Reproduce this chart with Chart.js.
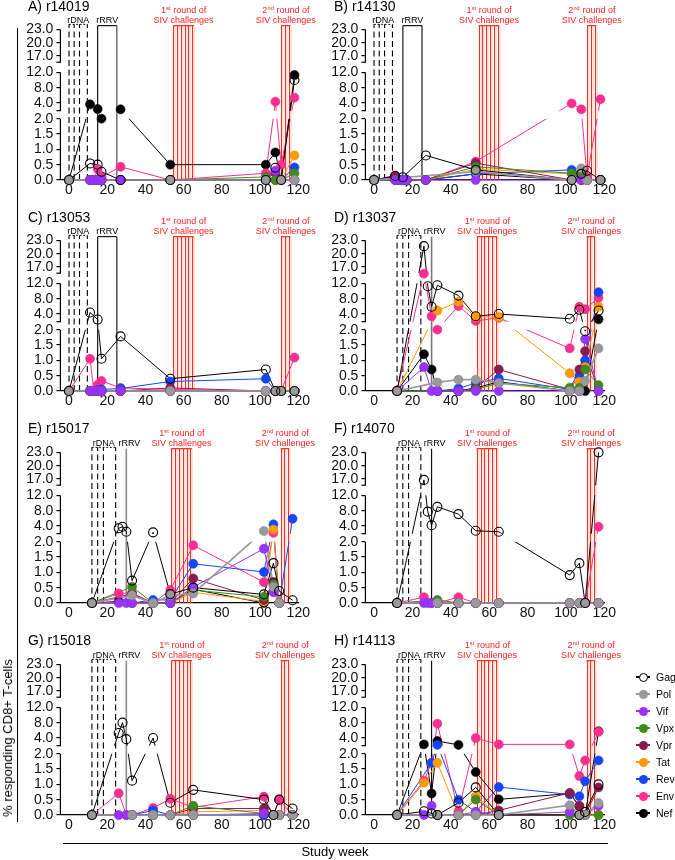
<!DOCTYPE html>
<html><head><meta charset="utf-8">
<script src="https://cdn.jsdelivr.net/npm/chart.js@4.4.1/dist/chart.umd.min.js"></script>
<style>
html,body{margin:0;padding:0;background:#fff;}
body{width:675px;height:860px;position:relative;overflow:hidden;font-family:"Liberation Sans",Arial,Helvetica,sans-serif;color:#000;}
canvas{position:absolute;}
.ptitle{position:absolute;font-size:14px;line-height:14px;white-space:nowrap;}
.leg{position:absolute;left:636px;height:14px;width:40px;}
.leg .ln{position:absolute;left:0;top:6.4px;width:14px;height:1.2px;}
.leg .dot{position:absolute;left:2.5px;top:2.5px;width:9px;height:9px;border-radius:50%;box-sizing:border-box;}
.leg .lt{position:absolute;left:20px;top:0;font-size:10.5px;line-height:14px;white-space:nowrap;}
</style></head><body>
<script>
// ---------------- DATA ----------------
const seriesNames = ['Gag','Pol','Vif','Vpx','Vpr','Tat','Rev','Env','Nef'];
const weeksAC = [0, 11, 13, 15, 17, 27, 53, 103, 108, 111, 118];
const weeksDH = [12, 26, 28, 30, 33, 44, 53, 65, 102, 107, 110, 117];
const yTickValues = [0, 0.5, 1, 1.5, 2, 4, 8, 12, 17, 20, 23];
const xTickValues = [0, 20, 40, 60, 80, 100, 120];

// immunization / challenge schedules (study weeks)
const rDNA_AC = [0, 2.7, 5.5, 9.6];
const rRRV_AC = [15, 25];
const siv1_AC = [54.5, 56.5, 58.5, 60.5, 62.5, 64.5];
const siv2_AC = [111, 113, 115];
const rDNA_DH = [12, 15, 18, 24.4];
const rRRV_DH = [30];
const siv1_DH = [53.5, 55.5, 57.5, 59.5, 61.5, 63.5];
const siv2_DH = [110.8, 112.6, 114.5];

// A) r14019
const A_Gag = [0, 0.54, null, 0.5, 0.27, 0, 0, 0, 0.4, 0, 10];
const A_Pol = [0, null, null, null, null, null, 0, 0, null, 0, 0];
const A_Vif = [0, 0, 0, 0, 0, 0, 0, 0, 0.3, 0, 0];
const A_Vpx = [0, 0, 0, 0, 0, 0, 0, 0.1, 0, 0, 0.22];
const A_Vpr = [0, 0, 0, 0, 0, 0, 0, 0, 0.25, 0, 0];
const A_Tat = [0, 0, 0, 0, 0, 0, 0, 0, 0, 0, 0.8];
const A_Rev = [0, 0, 0, 0, 0, 0, 0, 0, 0, 0, 0.41];
const A_Env = [0, 0, 0, 0.36, 0.1, 0.43, 0, 0.22, 4.35, 0.5, 5.4];
const A_Nef = [0, 3.65, null, 2.43, 2.0, 2.35, 0.5, 0.5, 0.9, 0, 11.3];
// B) r14130
const B_Gag = [0, 0.13, null, 0.09, null, 0.8, 0.33, 0, 0.2, 0.3, 0];
const B_Pol = [0, null, null, null, null, null, 0.27, 0, 0.38, 0, 0];
const B_Vif = [0, 0, 0, 0, 0, 0, 0, 0, 0, 0, 0];
const B_Vpx = [0, 0, 0, 0, 0, 0, 0.43, 0.22, 0.22, 0, 0];
const B_Vpr = [0, 0.12, 0, 0, 0, 0, 0.55, 0, 0, 0, 0];
const B_Tat = [0, 0.05, 0, 0, 0, 0, 0.35, 0.2, 0.15, 0, 0];
const B_Rev = [0, 0, 0, 0, 0, 0, 0.2, 0.33, 0, 0, 0];
const B_Env = [0, 0.15, 0, 0, 0, 0, 0.6, 3.9, 2.35, 0.1, 5.0];
const B_Nef = [0, 0, 0, 0, 0, 0, 0.2, 0, 0.25, 0, 0];
// C) r13053
const C_Gag = [0, 4.4, null, 2.55, 1.05, 1.78, 0.4, 0.7, 0, 0, 0];
const C_Pol = [0, null, null, null, null, null, 0, 0, 0, 0, 0];
const C_Vif = [0, 0, 0, 0, 0, 0, 0, 0, 0, 0, 0];
const C_Vpx = [0, 0, 0, 0, 0, 0, 0, 0, 0, 0, 0];
const C_Vpr = [0, 0, 0, 0, 0, 0, 0.1, 0, 0, 0, 0];
const C_Tat = [0, 0, 0, 0, 0, 0, 0, 0, 0, 0, 0];
const C_Rev = [0, 0, 0, 0.03, 0.05, 0.08, 0.31, 0.4, 0, 0, 0];
const C_Env = [0, 1.05, 0, 0.2, 0.33, 0.1, 0.05, 0, 0, 0, 1.09];
const C_Nef = [0, 0, 0, 0, 0, 0, 0, 0, 0, 0, 0];
// D) r13037
const D_Gag = [0, 21.7, 11.25, 5.9, 11.5, 8.8, 3.4, 4.0, 2.75, 5.1, 1.95, 4.9];
const D_Pol = [0, null, null, null, 0.28, 0.37, 0.37, 0.26, 0, 0, 0.33, 1.39];
const D_Vif = [0, 0.78, null, 0, 0, 0, 0, 0, 0, 0, 1.69, 0];
const D_Vpx = [0, null, null, null, 0, 0, 0.05, 0.25, 0.11, 0.1, 0.7, 0.19];
const D_Vpr = [0, null, null, null, 0, 0, 0.1, 0.7, 0.05, 0.7, 1.3, 0];
const D_Tat = [0, null, null, null, 4.9, 7.2, 3.2, 3.2, 0.58, 0.3, 0.78, 5.9];
const D_Rev = [0, null, null, null, 0, 0.08, 0.26, 0.41, 0.05, 0.5, 1.0, 9.7];
const D_Env = [0, 15.5, null, 3.4, 2.0, 6.1, 2.2, 3.0, 1.39, 5.9, 5.25, 8.25];
const D_Nef = [0, 1.2, null, 0.7, 0, 0, 0.1, 0.3, 0, 0, 0, 2.6];
// E) r15017
const E_Gag = [0, 3.4, 3.8, 2.5, 0.73, 2.35, 0.29, 0.5, 0.28, 1.3, 0.39, 0.09];
const E_Pol = [0, null, null, null, 0.25, 0, 0.25, 0.31, 2.7, 0.52, 0, null];
const E_Vif = [0, 0, null, 0, 0, 0, 0, 0.52, 1.77, 0.35, 0, null];
const E_Vpx = [0, null, null, null, 0.53, 0, 0, 0.42, 0.2, 0.6, 0, null];
const E_Vpr = [0, null, null, null, 0.3, 0, 0, 0.8, 0.1, 0.65, 0, null];
const E_Tat = [0, null, null, null, 0, 0, 0, 0.35, 0.05, 3.06, 0, null];
const E_Rev = [0, null, null, null, 0, 0.1, 0.1, 1.28, 1.01, 4.44, 0, 5.9];
const E_Env = [0, 0.31, null, null, 0.33, 0, 0.42, 1.88, 0.68, 2.2, 0, null];
const E_Nef = [0, 0.05, null, null, 0, 0, 0, 0.45, 0, 0.68, 0, null];
// F) r14070
const F_Gag = [0, 16.8, 7.75, 4.2, 9.0, 7.1, 2.75, 2.5, 0.91, 1.3, 0, 23];
const F_Pol = [0, null, null, null, 0, 0, 0, 0, 0, 0, 0, 0];
const F_Vif = [0, 0, 0, 0, 0, 0, 0, 0, 0, 0, 0, 0];
const F_Vpx = [0, null, null, null, 0.1, 0, 0, 0, 0, 0, 0, 0];
const F_Vpr = [0, null, null, null, 0, 0, 0, 0, 0, 0, 0, 0];
const F_Tat = [0, null, null, null, 0, 0, 0, 0, 0, 0, 0, 0];
const F_Rev = [0, null, null, null, 0, 0, 0, 0, 0, 0, 0, 0];
const F_Env = [0, 0.19, null, 0, 0, 0.19, 0, 0, 0, 0, 0, 3.8];
const F_Nef = [0, null, null, null, 0, 0, 0, 0, 0, 0, 0, 0];
// G) r15018
const G_Gag = [0, 5.3, 8.0, 3.7, 1.12, 4.0, 0.4, 0.82, 0.5, 0, 0.5, 0.21];
const G_Pol = [0, null, null, null, 0, 0, 0, 0, null, 0, 0, 0];
const G_Vif = [0, 0, null, 0, 0, 0, 0, 0, 0.05, 0, 0, 0];
const G_Vpx = [0, null, null, null, 0, 0, 0, 0.3, 0.05, 0, 0, 0];
const G_Vpr = [0, null, null, null, 0, 0, 0, 0.21, 0.21, 0, 0, 0];
const G_Tat = [0, null, null, null, 0, 0, 0, 0.1, 0.15, 0, 0, 0];
const G_Rev = [0, null, null, null, 0, 0.15, 0, 0, 0, 0, 0, 0];
const G_Env = [0, 0.71, null, 0, 0, 0.23, 0.53, 0.25, 0.6, 0, 0.5, 0];
const G_Nef = [0, null, null, null, 0, 0, 0, 0, 0, 0, 0, 0];
// H) r14113
const H_Gag = [0, 0.12, null, 0.05, 0, 0.4, 0.9, 0, null, 0, 0.1, 1.0];
const H_Pol = [0, null, null, null, 0, 0, 0, 0, 0.32, 0, 0, 0.39];
const H_Vif = [0, 0, null, 0.3, 0, 0, 0.1, 0, 0.1, 0, 0, 0.3];
const H_Vpx = [0, null, null, null, 0, 0, 0.5, 0, 0, 0, 0, 0];
const H_Vpr = [0, null, null, null, 0, 0, 0, 0.15, 0.72, 0.3, 0, 0.9];
const H_Tat = [0, 1.05, null, null, 1.7, 0, 0.6, 0, 0, 0, 0, 0];
const H_Rev = [0, null, null, 1.7, 2.2, 0.5, 0.1, 0.91, 0.67, 0.61, 1.1, 1.78];
const H_Env = [0, 1.12, null, 1.7, 7.75, 0.12, 4.0, 2.33, 2.33, 1.27, 1.78, 5.6];
const H_Nef = [0, 2.33, null, 0.7, 3.2, 2.2, 1.4, 0.51, 0.7, 0.28, 0, 5.75];

// ---------------- STYLE ----------------
const FONT = '"Liberation Sans", Arial, Helvetica, sans-serif';
const lineColors  = ['#000000','#9a9a9a','#9933ff','#3f8c1c','#8c1a4f','#ff9a00','#1446ff','#ff2e92','#000000'];
const fillColors  = ['rgba(255,255,255,0)','#9a9a9a','#9933ff','#3f8c1c','#8c1a4f','#ff9a00','#1446ff','#ff2e92','#000000'];
const edgeColors  = ['#000000','#8a8a8a','#8a2ae8','#36791a','#7a1545','#ee8f00','#1040ee','#ee2a86','#000000'];

// broken y axis: value -> plot units (segments 0-2 | 2-12 | 15.6-23)
function yMap(v){
  if (v === null || v === undefined) return null;
  if (v <= 2) return v * 30.667;
  if (v <= 13.5) return 69.33 + (v - 2) * 3.833;
  return 48.44 + v * 4.444;
}
const Y_MAX = yMap(23) + 5;
const BANDS = [[-50, yMap(2)], [69.33, yMap(12)], [117.8, Y_MAX + 50]];
const AXIS_BANDS = [[0, yMap(2)], [69.33, yMap(12)], [117.8, yMap(23)]];

const schedAC = {rDNA: rDNA_AC, rRRV: rRRV_AC, siv1: siv1_AC, siv2: siv2_AC};
const schedDH = {rDNA: rDNA_DH, rRRV: rRRV_DH, siv1: siv1_DH, siv2: siv2_DH};

const panels = [
  {tag:'A) r14019', weeks:weeksAC, s:[A_Gag,A_Pol,A_Vif,A_Vpx,A_Vpr,A_Tat,A_Rev,A_Env,A_Nef], sch:schedAC, col:0, row:0, rrrv:['#000','#777']},
  {tag:'B) r14130', weeks:weeksAC, s:[B_Gag,B_Pol,B_Vif,B_Vpx,B_Vpr,B_Tat,B_Rev,B_Env,B_Nef], sch:schedAC, col:1, row:0, rrrv:['#555','#555']},
  {tag:'C) r13053', weeks:weeksAC, s:[C_Gag,C_Pol,C_Vif,C_Vpx,C_Vpr,C_Tat,C_Rev,C_Env,C_Nef], sch:schedAC, col:0, row:1, rrrv:['#000','#555']},
  {tag:'D) r13037', weeks:weeksDH, s:[D_Gag,D_Pol,D_Vif,D_Vpx,D_Vpr,D_Tat,D_Rev,D_Env,D_Nef], sch:schedDH, col:1, row:1, rrrv:['#777']},
  {tag:'E) r15017', weeks:weeksDH, s:[E_Gag,E_Pol,E_Vif,E_Vpx,E_Vpr,E_Tat,E_Rev,E_Env,E_Nef], sch:schedDH, col:0, row:2, rrrv:['#8a8a8a']},
  {tag:'F) r14070', weeks:weeksDH, s:[F_Gag,F_Pol,F_Vif,F_Vpx,F_Vpr,F_Tat,F_Rev,F_Env,F_Nef], sch:schedDH, col:1, row:2, rrrv:['#000']},
  {tag:'G) r15018', weeks:weeksDH, s:[G_Gag,G_Pol,G_Vif,G_Vpx,G_Vpr,G_Tat,G_Rev,G_Env,G_Nef], sch:schedDH, col:0, row:3, rrrv:['#8a8a8a']},
  {tag:'H) r14113', weeks:weeksDH, s:[H_Gag,H_Pol,H_Vif,H_Vpx,H_Vpr,H_Tat,H_Rev,H_Env,H_Nef], sch:schedDH, col:1, row:3, rrrv:['#000']}
];

// ---------------- LAYOUT ----------------
const ROW_BASE = [180, 391, 602.7, 814.7];
const CANVAS_W = 330, CANVAS_H = 205;
const COL = [
  {left:0,   axisW:60.4, padR:31.7, titleX:28},
  {left:305, axisW:60.4, padR:30.7, titleX:334}
];

Chart.defaults.font.family = FONT;

function seg(ctx, x1, y1, x2, y2){ ctx.beginPath(); ctx.moveTo(x1, y1); ctx.lineTo(x2, y2); ctx.stroke(); }

function drawSuperLabel(ctx, cx, cy, num, sup, rest, color){
  ctx.fillStyle = color;
  ctx.textBaseline = 'middle';
  ctx.textAlign = 'left';
  const big = '9px ' + FONT, small = '5.6px ' + FONT;
  ctx.font = big; const w1 = ctx.measureText(num).width; const w3 = ctx.measureText(rest).width;
  ctx.font = small; const w2 = ctx.measureText(sup).width;
  let x0 = cx - (w1 + w2 + w3) / 2;
  ctx.font = big; ctx.fillText(num, x0, cy);
  ctx.font = small; ctx.fillText(sup, x0 + w1 + 0.2, cy - 2.6);
  ctx.font = big; ctx.fillText(rest, x0 + w1 + w2 + 0.4, cy);
}

function annotPlugin(p){
  return {
    id: 'annot',
    beforeDatasetsDraw(chart){
      const {ctx, chartArea: ca, scales: {x, y}} = chart;
      const sch = p.sch;
      const yb = y.getPixelForValue(0), yt = ca.top;
      const X = w => x.getPixelForValue(w);
      ctx.save();
      // SIV challenge lines
      [sch.siv1, sch.siv2].forEach(group => {
        group.forEach(w => {
          const px = Math.round(X(w)) + 0.5;
          ctx.strokeStyle = 'rgba(255,150,130,0.55)'; ctx.lineWidth = 1;
          seg(ctx, px + 1.5, yb, px + 1.5, yt + 1.3);
          ctx.strokeStyle = '#ff2b1c'; ctx.lineWidth = 1;
          seg(ctx, px, yb, px, yt + 1.3);
        });
        ctx.strokeStyle = '#ff2b1c'; ctx.lineWidth = 1.2;
        seg(ctx, X(group[0]), yt + 1.3, X(group[group.length - 1]) + 1.5, yt + 1.3);
      });
      // rDNA dashed lines
      ctx.strokeStyle = '#000'; ctx.lineWidth = 1.1;
      ctx.setLineDash([6, 3.5]);
      sch.rDNA.forEach(w => seg(ctx, X(w), yb, X(w), yt));
      ctx.setLineDash([1.8, 1.8]); ctx.lineWidth = 1;
      seg(ctx, X(sch.rDNA[0]), yt, X(sch.rDNA[sch.rDNA.length - 1]), yt);
      ctx.setLineDash([]);
      // rRRV lines
      sch.rRRV.forEach((w, i) => {
        ctx.strokeStyle = p.rrrv[i]; ctx.lineWidth = (p.rrrv[i] === '#000') ? 1.1 : 1.6;
        seg(ctx, X(w), yb, X(w), yt + 1.3);
      });
      if (sch.rRRV.length > 1) {
        ctx.strokeStyle = '#000'; ctx.lineWidth = 1.1;
        seg(ctx, X(sch.rRRV[0]), yt + 1.3, X(sch.rRRV[sch.rRRV.length - 1]), yt + 1.3);
      }
      // labels
      ctx.font = '9px ' + FONT; ctx.textAlign = 'center'; ctx.textBaseline = 'middle'; ctx.fillStyle = '#000';
      const mid = arr => (arr[0] + arr[arr.length - 1]) / 2;
      ctx.fillText('rDNA', X(mid(sch.rDNA)), yt - 4.3);
      const rrrvX = sch.rRRV.length > 1 ? X(mid(sch.rRRV)) : X(sch.rRRV[0] + 1.6);
      ctx.fillText('rRRV', rrrvX, yt - 4.3);
      ctx.fillStyle = '#ff2222';
      ctx.fillText('SIV challenges', X(mid(sch.siv1)) + 0.8, yt - 4.3);
      ctx.fillText('SIV challenges', X(mid(sch.siv2)) + 0.8, yt - 4.3);
      drawSuperLabel(ctx, X(mid(sch.siv1)) + 0.8, yt - 13.7, '1', 'st', ' round of', '#ff2222');
      drawSuperLabel(ctx, X(mid(sch.siv2)) + 0.8, yt - 13.7, '2', 'nd', ' round of', '#ff2222');
      // broken y axis line
      ctx.strokeStyle = '#000'; ctx.lineWidth = 1.2;
      const xa = ca.left;
      AXIS_BANDS.forEach(([a, b]) => seg(ctx, xa, y.getPixelForValue(a), xa, y.getPixelForValue(b)));
      [AXIS_BANDS[1][0], AXIS_BANDS[2][0]].forEach(u => {
        const py = y.getPixelForValue(u);
        seg(ctx, xa - 4, py, xa + 0.6, py);
      });
      ctx.restore();
    },
    beforeDatasetDraw(chart, args){
      const ds = chart.data.datasets[args.index];
      if (!ds.isLine) return;
      const {ctx, chartArea: ca, scales: {y}} = chart;
      ctx.save();
      ctx.beginPath();
      BANDS.forEach(([a, b]) => {
        const y1 = y.getPixelForValue(b), y2 = y.getPixelForValue(a);
        ctx.rect(ca.left, y1, ca.right - ca.left + 10, y2 - y1);
      });
      ctx.clip();
    },
    afterDatasetDraw(chart, args){
      const ds = chart.data.datasets[args.index];
      if (!ds.isLine) return;
      chart.ctx.restore();
    }
  };
}

function makePanel(p){
  const col = COL[p.col];
  const base = ROW_BASE[p.row];
  const cv = document.createElement('canvas');
  cv.width = CANVAS_W; cv.height = CANVAS_H;
  cv.style.width = CANVAS_W + 'px'; cv.style.height = CANVAS_H + 'px';
  cv.style.left = col.left + 'px'; cv.style.top = (base - 180) + 'px';
  document.body.appendChild(cv);

  const t = document.createElement('div');
  t.className = 'ptitle'; t.textContent = p.tag;
  t.style.left = col.titleX + 'px'; t.style.top = (base - 174.5 - 6.9) + 'px';
  document.body.appendChild(t);

  const toPts = arr => p.weeks.map((w, j) => ({x: w, y: yMap(arr[j])}));
  const datasets = [];
  seriesNames.forEach((n, i) => {
    datasets.push({
      label: n, data: toPts(p.s[i]), showLine: false,
      pointRadius: 4.5, pointBackgroundColor: fillColors[i], pointBorderColor: edgeColors[i],
      pointBorderWidth: i === 0 ? 1.1 : 0.6, clip: false
    });
  });
  [1, 0, 2, 3, 4, 5, 6, 7, 8].forEach(i => {
    datasets.push({
      label: seriesNames[i] + ' line', data: toPts(p.s[i]), showLine: true, isLine: true,
      pointRadius: 0, borderColor: lineColors[i], borderWidth: i === 1 ? 1.7 : 1,
      spanGaps: true, clip: false, fill: false
    });
  });

  new Chart(cv, {
    type: 'scatter',
    data: {datasets},
    options: {
      responsive: false, animation: false, events: [], devicePixelRatio: 1,
      layout: {padding: {top: 180 - (Y_MAX), bottom: 3, left: 0, right: col.padR}},
      plugins: {legend: {display: false}, tooltip: {enabled: false}},
      scales: {
        x: {
          type: 'linear', min: -4.5, max: 120,
          afterBuildTicks: s => { s.ticks = xTickValues.map(v => ({value: v})); },
          afterFit: s => { s.height = 22; },
          grid: {display: false, drawTicks: false},
          border: {display: true, color: '#000', width: 1.2},
          ticks: {font: {size: 14, family: FONT}, color: '#111', padding: 2, maxRotation: 0, autoSkip: false}
        },
        y: {
          type: 'linear', min: 0, max: Y_MAX,
          afterBuildTicks: s => { s.ticks = yTickValues.map(v => ({value: yMap(v)})); },
          afterFit: s => { s.width = col.axisW; },
          grid: {display: true, drawOnChartArea: false, drawTicks: true, tickLength: 4, color: '#000', lineWidth: 1.2},
          border: {display: false},
          ticks: {autoSkip: false, font: {size: 14, family: FONT}, color: '#111', padding: 3,
                  callback: (val, idx) => yTickValues[idx].toFixed(1)}
        }
      }
    },
    plugins: [annotPlugin(p)]
  });
}

panels.forEach(makePanel);

// frame lines and axis titles
(function(){
  const add = (css, txt) => { const d = document.createElement('div'); d.style.cssText = 'position:absolute;' + css; if (txt) d.textContent = txt; document.body.appendChild(d); return d; };
  add('left:16.6px;top:28px;width:1.4px;height:794px;background:#000;');
  add('left:63px;top:842.6px;width:545px;height:1.4px;background:#000;');
  add('left:335px;top:852px;transform:translate(-50%,-50%);font-size:13px;line-height:14px;white-space:nowrap;', 'Study week');
  add('left:7.5px;top:738px;transform:translate(-50%,-50%) rotate(-90deg);font-size:13px;line-height:14px;white-space:nowrap;', '% responding CD8+ T-cells');
  // legend
  seriesNames.forEach((n, i) => {
    const d = add('top:' + (677 + 17 * i - 7) + 'px;');
    d.className = 'leg';
    const ln = document.createElement('span'); ln.className = 'ln'; ln.style.background = lineColors[i];
    const dot = document.createElement('span'); dot.className = 'dot';
    dot.style.background = i === 0 ? '#fff' : fillColors[i];
    dot.style.border = i === 0 ? '1.1px solid #000' : 'none';
    const lt = document.createElement('span'); lt.className = 'lt'; lt.textContent = n;
    d.appendChild(ln); d.appendChild(dot); d.appendChild(lt);
  });
})();
</script>
</body></html>
